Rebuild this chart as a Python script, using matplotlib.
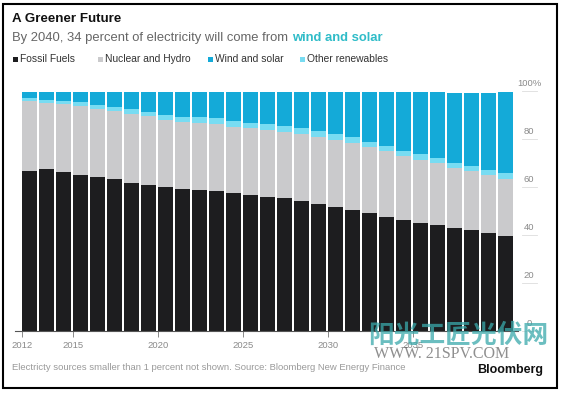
import matplotlib.pyplot as plt
from matplotlib.patches import Rectangle

# data (percent of electricity)
years = list(range(2012, 2041))
fossil = [66.8, 67.3, 66.4, 65.2, 64.0, 63.2, 61.8, 60.8, 59.8, 59.1,
          58.6, 58.2, 57.4, 56.8, 56.0, 55.3, 54.0, 52.9, 51.6, 50.4,
          49.0, 47.6, 46.2, 45.2, 44.1, 43.0, 42.0, 40.9, 39.5]
nuclear_hydro = [29.0, 27.6, 28.1, 28.6, 28.6, 28.6, 28.8, 28.7, 28.2, 28.1,
                 28.2, 28.1, 27.8, 27.6, 27.7, 27.7, 27.9, 28.1, 28.1, 28.1,
                 27.5, 27.2, 26.7, 26.2, 25.7, 24.9, 24.55, 24.0, 23.9]
other_renew = [1.2, 1.35, 1.5, 1.5, 1.6, 1.7, 1.8, 1.9, 2.0, 2.1,
               2.2, 2.3, 2.4, 2.4, 2.5, 2.5, 2.5, 2.5, 2.5, 2.5,
               2.4, 2.3, 2.2, 2.2, 2.2, 2.2, 2.2, 2.2, 2.3]
wind_solar = [2.5, 3.25, 3.5, 4.2, 5.3, 6.0, 7.1, 8.1, 9.5, 10.2,
              10.5, 10.9, 11.9, 12.7, 13.3, 14.0, 15.1, 16.2, 17.4, 18.7,
              20.6, 22.4, 24.4, 25.9, 27.5, 29.2, 30.6, 32.1, 33.7]

series = ["Fossil Fuels", "Nuclear and Hydro", "Wind and solar", "Other renewables"]
colors = {"Fossil Fuels": "#1d1d1f", "Nuclear and Hydro": "#cacacc",
          "Wind and solar": "#14aad8", "Other renewables": "#78dcf2"}
y_ticks = [0, 20, 40, 60, 80, 100]
y_labels = ["0", "20", "40", "60", "80", "100%"]
x_ticks = [2012, 2015, 2020, 2025, 2030, 2035]

plt.rcParams['font.family'] = ['Liberation Sans', 'DejaVu Sans']

W, H = 561, 393
fig = plt.figure(figsize=(W / 100, H / 100), dpi=100)
fig.patch.set_facecolor("white")

# axes placed in pixel terms
ax = fig.add_axes([15 / W, (H - 331) / H, (518 - 15) / W, 240 / H])
x = [y - 2012 for y in years]
bottom = [0] * len(x)
for name, vals in [("Fossil Fuels", fossil), ("Nuclear and Hydro", nuclear_hydro),
                   ("Other renewables", other_renew), ("Wind and solar", wind_solar)]:
    ax.bar(x, vals, width=0.9, bottom=bottom, align="edge", color=colors[name],
           linewidth=0)
    bottom = [b + v for b, v in zip(bottom, vals)]

ax.set_xlim(-7 / 17, (518 - 22) / 17)
ax.set_ylim(0, 100)
for s in ["top", "right", "left"]:
    ax.spines[s].set_visible(False)
ax.spines["bottom"].set_color("#555555")
ax.spines["bottom"].set_linewidth(0.8)
ax.set_yticks([])
ax.set_xticks([t - 2012 for t in x_ticks])
ax.set_xticklabels([str(t) for t in x_ticks], fontsize=6.8, color="#8a8a8a")
ax.tick_params(axis="x", length=4, width=0.6, color="#777777", pad=3)

# right-hand value labels with short rules under them
for v, lab in zip(y_ticks, y_labels):
    yy = (H - 331 + v * 2.4) / H
    fig.add_artist(plt.Line2D([522 / W, 537 / W], [yy, yy], color="#dddddd", lw=0.6))
    fig.text(529 / W, yy + 8 / H, lab, ha="center", va="center", fontsize=6.8,
             color="#8a8a8a")

# titles
fig.text(12 / W, 1 - 19 / H, "A Greener Future", fontsize=9.6, fontweight="bold",
         color="#111111", va="center")
t = fig.text(12 / W, 1 - 38 / H, "By 2040, 34 percent of electricity will come from ",
             fontsize=9.4, color="#666666", va="center")
fig.canvas.draw()
bb = t.get_window_extent()
fig.text(bb.x1 / W, 1 - 38 / H, "wind and solar", fontsize=9.4, fontweight="bold",
         color="#2fbcc8", va="center")

# legend row
leg_x = [12, 97, 207, 299]
for lx, name in zip(leg_x, series):
    fig.add_artist(Rectangle(((lx + 1) / W, 1 - 62 / H), 5 / W, 5 / H,
                             transform=fig.transFigure, color=colors[name], lw=0))
    fig.text((lx + 8) / W, 1 - 59.5 / H, name, fontsize=7.4, color="#333333",
             va="center")

# footer
fig.text(12 / W, 1 - 367 / H,
         "Electricty sources smaller than 1 percent not shown. Source: Bloomberg New Energy Finance",
         fontsize=6.8, color="#9a9a9a", va="center")
fig.text(543 / W, 1 - 370 / H, "Bloomberg", fontsize=9, fontweight="bold",
         color="#111111", ha="right", va="center")

# watermark
fig.text(368 / W, 1 - 335 / H, "阳光工匠光伏网", fontsize=18.5, fontweight="bold",
         color="#3aa9ab", alpha=0.75, va="center",
         family=["Noto Sans CJK SC", "DejaVu Sans"])
fig.text(374 / W, 1 - 354 / H, "WWW. 21SPV.COM", fontsize=11.5, color="#444444",
         alpha=0.6, va="center", family=["Liberation Serif", "DejaVu Serif"])

# outer frame
fig.add_artist(Rectangle((3 / W, 5 / H), 554 / W, 384 / H, transform=fig.transFigure,
                         fill=False, edgecolor="black", lw=1.5))

plt.savefig("out.png", dpi=100)
